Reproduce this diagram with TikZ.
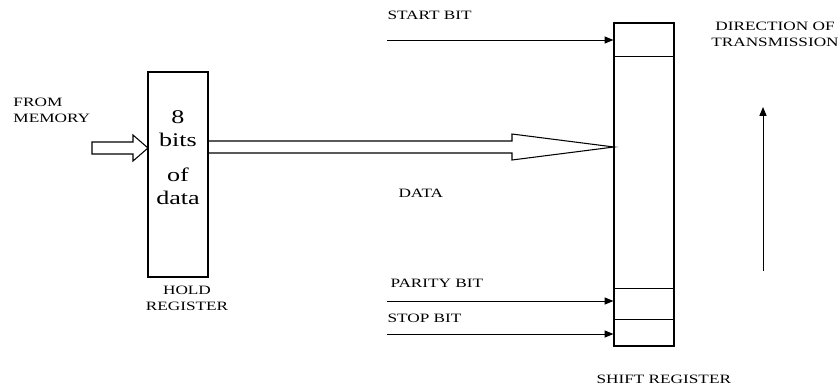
\documentclass[tikz,border=0pt]{standalone}
\usepackage{fontspec}
\setmainfont{Liberation Serif}[FakeStretch=1.35]
\usetikzlibrary{arrows.meta, positioning}

\begin{document}
\begin{tikzpicture}[
  x=0.03cm, y=-0.03cm,
  reg/.style={draw, line width=1pt, minimum width=1.8cm, inner sep=0pt},
  lbl/.style={font=\fontsize{10.9}{13.5}\selectfont, inner sep=0pt},
  hollow/.style={draw, line width=0.9pt, line join=miter},
  >={Triangle[length=7.5pt,width=6pt]},
  line width=0.85pt
]
\useasboundingbox (0,0) rectangle (838,387);

% registers
\node[reg, minimum height=6.15cm] (hold) at (178,174.5) {};
\node[reg, minimum height=9.69cm] (shift) at (644,184.5) {};
\node[font=\fontsize{16.5}{19.6}\selectfont, align=center, inner sep=0pt] (bits) at (178,157.5) {8\\bits\\[10pt]of\\data};

% cells of the shift register
\draw (shift.north west) ++(0,34) -- ++(60,0);
\draw (shift.south west) ++(0,-27) -- ++(60,0);
\draw (shift.south west) ++(0,-58) -- ++(60,0);

% labels
\node[lbl, align=left, anchor=west] (frommem) at (13,110) {FROM\\MEMORY};
\node[lbl, align=center] (holdlbl) at (187,298) {HOLD\\REGISTER};
\node[lbl, anchor=west] (startlbl) at (387,15) {START BIT};
\node[lbl, anchor=west] (datalbl) at (398,193) {DATA};
\node[lbl, anchor=west] (paritylbl) at (390,283) {PARITY BIT};
\node[lbl, anchor=west] (stoplbl) at (387,318) {STOP BIT};
\node[lbl, anchor=west] (shiftlbl) at (596,379) {SHIFT REGISTER};
\node[lbl, align=center] (dirlbl) at (775,34) {DIRECTION OF\\TRANSMISSION};

% hollow data arrows
\draw[hollow] (92,142) -- (133,142) -- (133,135) -- (148,148) -- (133,161) -- (133,154) -- (92,154) -- cycle;
\draw[hollow] (208,141) -- (512,141) -- (512,134) -- (614,147) -- (512,160) -- (512,153) -- (208,153);

% framing bits
\coordinate (startin) at (387,40);
\coordinate (parityin) at (387,301);
\coordinate (stopin) at (387,334);
\draw[->] (startin) -- (startin -| shift.west);
\draw[->] (parityin) -- (parityin -| shift.west);
\draw[->] (stopin) -- (stopin -| shift.west);

% direction
\coordinate (dirfrom) at (763,271);
\coordinate (dirto) at (763,107);
\draw[->] (dirfrom) -- (dirto);
\end{tikzpicture}
\end{document}
